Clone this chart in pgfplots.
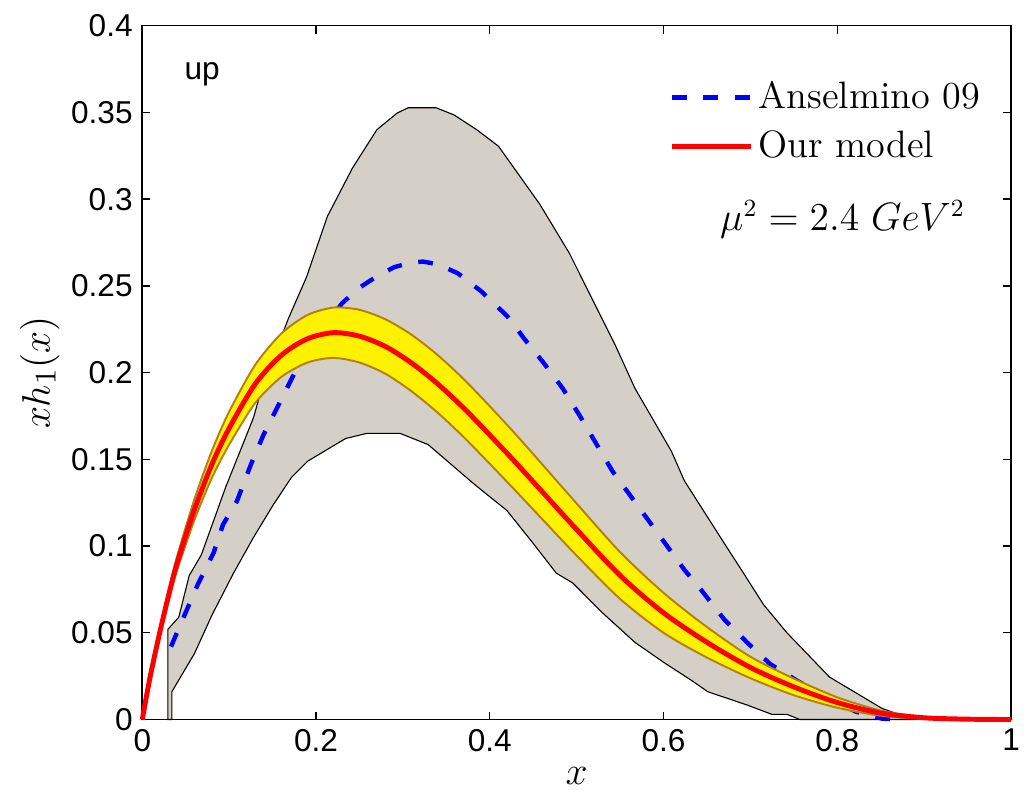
\documentclass[border=0pt]{standalone}
\usepackage{fontspec}
\usepackage{pgfplots}
\pgfplotsset{compat=1.18}
\newfontfamily\helv{Liberation Sans}
\definecolor{bandgray}{RGB}{212,208,200}
\definecolor{bandedge}{RGB}{180,128,10}
\begin{document}
\begin{tikzpicture}
\begin{axis}[
  scale only axis, width=316.4pt, height=252.7pt,
  xmin=0, xmax=1, ymin=0, ymax=0.4,
  xtick={0,0.2,0.4,0.6,0.8,1},
  xticklabels={0,0.2,0.4,0.6,0.8,1},
  ytick={0,0.05,0.1,0.15,0.2,0.25,0.3,0.35,0.4},
  yticklabels={0,0.05,0.1,0.15,0.2,0.25,0.3,0.35,0.4},
  tick label style={font=\helv\fontsize{11.5}{13}\selectfont},
  tick style={black, line width=0.5pt},
  major tick length=2.9pt,
  axis line style={black, line width=0.6pt},
  clip=false,
  xlabel={$x$}, ylabel={$xh_1(x)$},
  xlabel style={at={(axis description cs:0.5,-0.081)}, anchor=center, font=\fontsize{14.4}{16}\selectfont},
  ylabel style={at={(axis description cs:-0.118,0.5)}, anchor=center, font=\fontsize{15}{17}\selectfont},
  legend style={draw=none, fill=none, at={(axis description cs:0.606,0.928)}, anchor=north west,
    font=\fontsize{13.9}{16}\selectfont, row sep=2.5pt, inner sep=0pt},
  legend cell align=left,
  legend image code/.code={\draw[#1] (0pt,0pt) -- (28.8pt,0pt);},
]
% grey band
\addplot[fill=bandgray, draw=black, line width=0.4pt, forget plot] coordinates {
(0.0295,0) (0.0295,0.052) (0.042,0.059) (0.054,0.083) (0.068,0.095) (0.096,0.134)
(0.128,0.174) (0.1375,0.191) (0.168,0.231) (0.189,0.255) (0.213,0.290) (0.242,0.318)
(0.270,0.340) (0.293,0.3495) (0.306,0.3527) (0.338,0.3527) (0.359,0.3485) (0.385,0.340)
(0.410,0.3305) (0.4576,0.297) (0.4917,0.2687) (0.5447,0.2155) (0.567,0.191) (0.609,0.1547)
(0.624,0.1376) (0.670,0.1015) (0.692,0.0844) (0.715,0.0663) (0.742,0.050) (0.791,0.0245)
(0.8515,0.0064) (0.878,0.0017) (0.885,0)
(0.757,0) (0.742,0.003) (0.7246,0.003) (0.696,0.0084) (0.651,0.016) (0.632,0.0226)
(0.60,0.033) (0.567,0.0445) (0.5295,0.0616) (0.4955,0.0787) (0.4765,0.0844) (0.45,0.1015)
(0.4197,0.1205) (0.382,0.1357) (0.329,0.1585) (0.2966,0.165) (0.2587,0.165) (0.234,0.162)
(0.1906,0.149) (0.1716,0.1395) (0.151,0.124) (0.128,0.105) (0.105,0.0844) (0.08,0.060)
(0.06,0.038) (0.034,0.016) (0.034,0)
} -- cycle;
% Anselmino 09
\addplot[blue, line width=1.6pt, dash pattern=on 5.4pt off 6.1pt] coordinates {
(0.033,0.042) (0.045,0.056) (0.064,0.078) (0.082,0.096) (0.093,0.1125) (0.109,0.126)
(0.125,0.147) (0.1394,0.164) (0.1545,0.179) (0.1735,0.198) (0.19,0.212) (0.2076,0.225)
(0.23,0.240) (0.25,0.249) (0.27,0.2555) (0.29,0.2608) (0.31,0.2635) (0.323,0.264)
(0.34,0.2625) (0.363,0.2573) (0.39,0.2469) (0.42,0.2326) (0.44,0.2193) (0.4614,0.206)
(0.484,0.1908) (0.503,0.1756) (0.541,0.1433) (0.5826,0.1148) (0.624,0.0863) (0.643,0.0749)
(0.6697,0.0578) (0.696,0.0445) (0.7227,0.032) (0.753,0.0226) (0.783,0.0141) (0.821,0.0046)
(0.8515,0.0005) (0.87,0)
};
\addlegendentry{Anselmino 09}
% yellow band
\addplot[fill=yellow, draw=bandedge, line width=0.7pt, smooth, tension=0.45, forget plot] coordinates {
(0,0) (0.005,0.0145) (0.01,0.028) (0.02,0.052) (0.03,0.074) (0.04,0.094) (0.06,0.127)
(0.08,0.1548) (0.10,0.1775) (0.13,0.2045) (0.16,0.2225) (0.19,0.2332) (0.22,0.2375)
(0.25,0.2362) (0.28,0.2307) (0.31,0.2218) (0.34,0.2101) (0.37,0.1962) (0.40,0.1806)
(0.43,0.1643) (0.46,0.1473) (0.50,0.1245) (0.55,0.0965) (0.60,0.0730) (0.65,0.0533)
(0.70,0.0362) (0.75,0.0236) (0.80,0.0128) (0.85,0.0052) (0.90,0.0015) (0.95,0.0003) (1,0)
(0.95,0.0001) (0.90,0.0005) (0.85,0.0022) (0.80,0.0068) (0.75,0.0140) (0.70,0.0238)
(0.65,0.0357) (0.60,0.0500) (0.55,0.0695) (0.50,0.0945) (0.46,0.1157) (0.43,0.1317)
(0.40,0.1474) (0.37,0.1628) (0.34,0.1769) (0.31,0.1892) (0.28,0.1993) (0.25,0.2058)
(0.22,0.2085) (0.19,0.2058) (0.16,0.1975) (0.13,0.1825) (0.10,0.1585) (0.08,0.1392)
(0.06,0.115) (0.04,0.086) (0.03,0.068) (0.02,0.048) (0.01,0.026) (0.005,0.0135)
} -- cycle;
% Our model
\addplot[red, line width=1.8pt, smooth] coordinates {
(0,0) (0.005,0.014) (0.01,0.027) (0.02,0.050) (0.03,0.071) (0.04,0.090) (0.06,0.121)
(0.08,0.147) (0.10,0.168) (0.13,0.1935) (0.16,0.2100) (0.19,0.2195) (0.22,0.2230)
(0.25,0.2210) (0.28,0.2150) (0.31,0.2055) (0.34,0.1935) (0.37,0.1795) (0.40,0.1640)
(0.43,0.1480) (0.46,0.1315) (0.50,0.1095) (0.55,0.0830) (0.60,0.0615) (0.65,0.0445)
(0.70,0.0300) (0.75,0.0188) (0.80,0.0098) (0.85,0.0037) (0.90,0.0010) (0.95,0.0002) (1,0)
};
\addlegendentry{Our model}
\node[font=\helv\fontsize{11.5}{13}\selectfont] at (axis description cs:0.069,0.930) {up};
\node[font=\fontsize{13.4}{15}\selectfont] at (axis description cs:0.806,0.721) {$\mu^2 = 2.4\ GeV^2$};
\path (axis description cs:-0.1638,-0.1026) rectangle (axis description cs:1.0068,1.037);
\end{axis}
\end{tikzpicture}
\end{document}
